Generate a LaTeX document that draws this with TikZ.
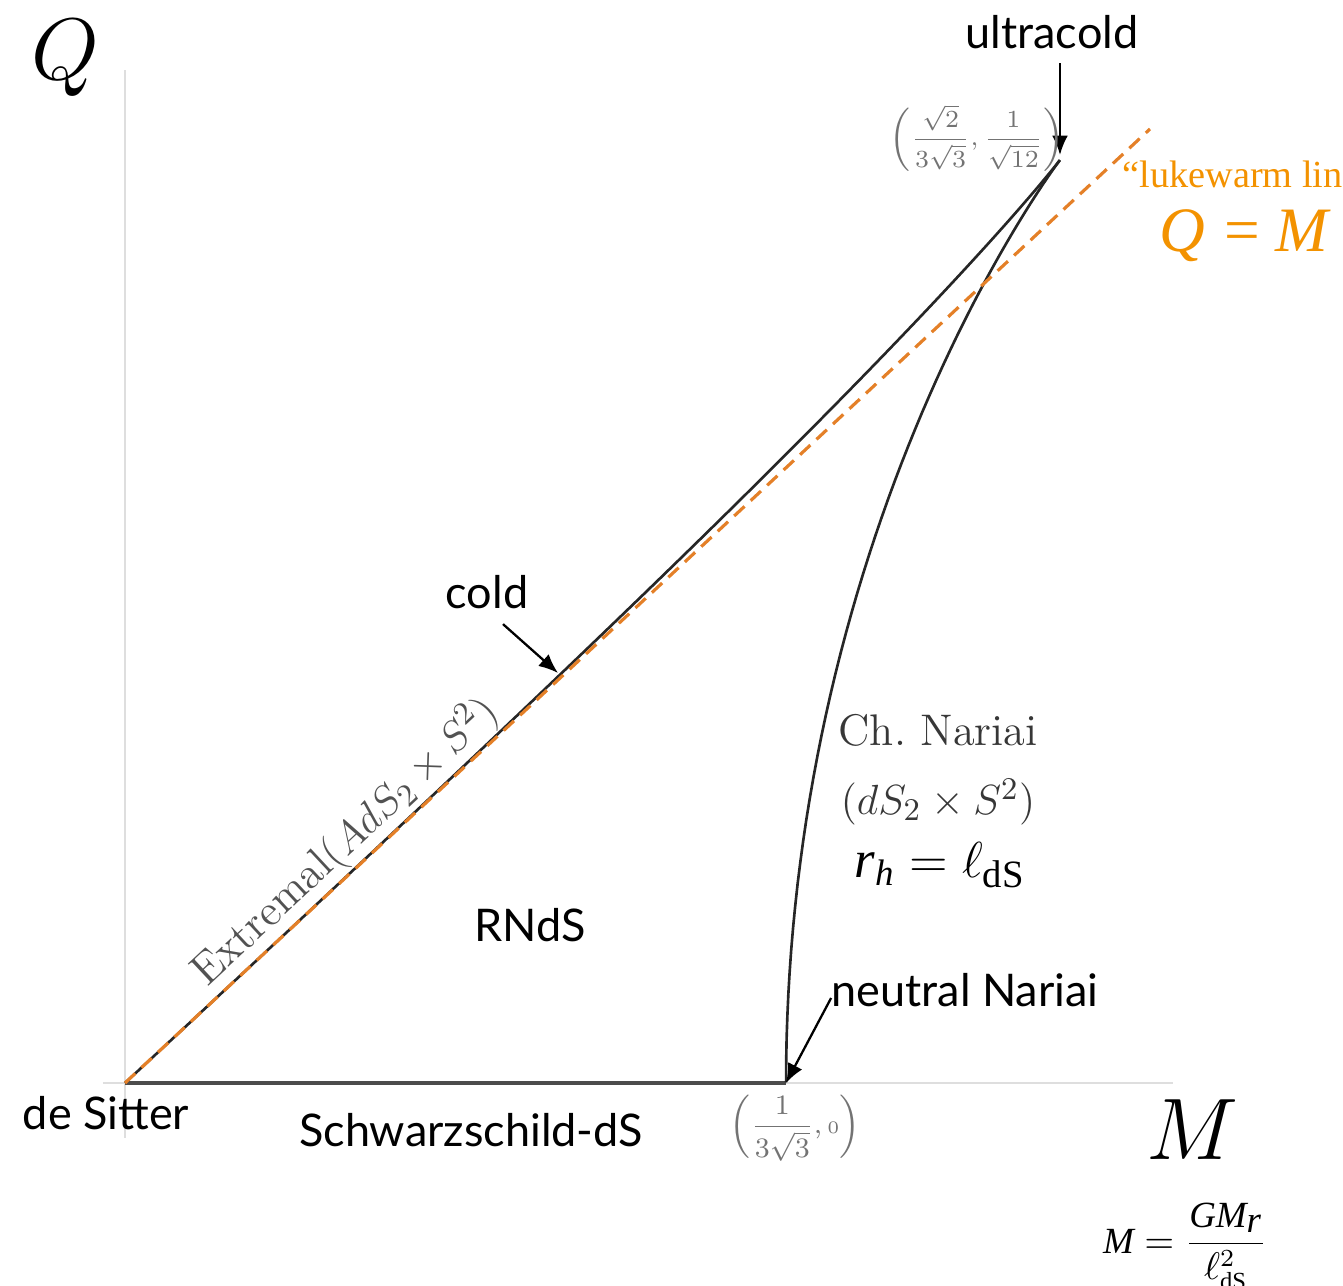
\documentclass[tikz,border=0pt]{standalone}
\usepackage{fontspec}
\usetikzlibrary{arrows.meta}
\newfontfamily\lbl{Lato}
\newfontfamily\tms{Liberation Serif}
\newcommand\ti[1]{\mbox{\tms\itshape #1}}
\newcommand\tisub[1]{\mbox{\tms\itshape\fontsize{10.5}{12}\selectfont #1}}
\definecolor{warm}{RGB}{243,146,0}
\definecolor{warmline}{RGB}{228,128,40}
\definecolor{axisgray}{RGB}{222,222,222}
\definecolor{txtgray}{RGB}{55,55,55}
\begin{document}
\begin{tikzpicture}[x=0.1mm,y=0.1mm,
  curve/.style={line width=0.75pt,black!85},
  sidelbl/.style={font=\lbl\fontsize{12.8}{15}\selectfont},
  cmlbl/.style={text=txtgray,font=\fontsize{12.6}{15}\selectfont},
  ptlbl/.style={text=black!55,font=\fontsize{7.2}{9}\selectfont},
  pointer/.style={-{Latex[length=5.5pt,width=4.5pt]},line width=0.65pt}]
\useasboundingbox (-125,-203) rectangle (1218,1083);
% axes
\draw[axisgray,line width=0.6pt] (0,-55) -- (0,1013);
\draw[axisgray,line width=0.6pt] (-22,0) -- (1048,0);
\node[font=\fontsize{25}{30}\selectfont] (qax) at (-60,1025) {$Q$};
\node[font=\fontsize{23}{28}\selectfont] (max) at (1067,-47) {$M$};
% special points
\coordinate (ds) at (0,0);
\coordinate (nn) at (661,0);
\coordinate (uc) at (935,923);
\coordinate (cp) at (433,410);
\coordinate (lw) at (1025,954);
% Schwarzschild-dS branch
\draw[line width=1pt,black!70] (ds) -- (nn);
% extremal (cold) branch
\draw[curve] plot[domain=0:0.40825,samples=60,variable=\r]
  ({3435*\r*(1-2*\r*\r)},{3197*\r*sqrt(1-3*\r*\r)});
% charged Nariai branch
\draw[curve] plot[domain=0.70711:0,samples=60,variable=\t]
  ({3435*sqrt((1-\t*\t)/3)*(1+2*\t*\t)/3},{3197*sqrt((1-\t*\t)/3)*\t});
% lukewarm line Q=M
\draw[warmline,line width=0.9pt,dash pattern=on 4pt off 2.4pt] (ds) -- (lw);
% labels
\node[sidelbl] (ultra) at (927,1051) {ultracold};
\draw[pointer] (ultra.south -| uc) ++(0,-2) -- ([shift={(0,5)}]uc);
\node[ptlbl] (ucval) at (852,945) {$\displaystyle\left(\frac{\sqrt{2}}{3\sqrt{3}},\frac{1}{\sqrt{12}}\right)$};
\node[anchor=base west,text=warm,font=\tms\fontsize{10.9}{13}\selectfont] (lwtxt) at (985,895) {“lukewarm line”};
\node[anchor=base west,text=warm,font=\fontsize{18}{21}\selectfont] (qm) at (1022,831) {\ti{Q} \tms= \ti{M}};
\node[sidelbl] (cold) at (362,491) {cold};
\draw[pointer] (cold.south) ++(16,-3) -- (cp);
\node[cmlbl,text=black!68,rotate=43] (ext) at (220,241) {Extremal$(AdS_2\times S^2)$};
\node[sidelbl] (rnds) at (405,158) {RNdS};
\node[cmlbl] (chn) at (813,353) {Ch.\ Nariai};
\node[cmlbl] (chg) at (813,281) {$(dS_2\times S^2)$};
\node[font=\fontsize{15}{18}\selectfont] (rh) at (815,218) {$\ti{r}_{\tisub{h}}=\ell_{\mbox{\tms\fontsize{11}{13}\selectfont dS}}$};
\node[sidelbl] (neut) at (840,93) {neutral Nariai};
\draw[pointer] ([shift={(12,-8)}]neut.west) -- (nn);
\node[ptlbl,font=\fontsize{7.6}{9}\selectfont] (nnval) at (670,-45) {$\displaystyle\left(\frac{1}{3\sqrt{3}},{\scriptstyle 0}\right)$};
\node[sidelbl] (desit) at (-19,-30) {de Sitter};
\node[sidelbl] (sch) at (346,-47) {Schwarzschild-dS};
\node[font=\fontsize{10.5}{13}\selectfont] (mdef) at (1060,-163) {$\ti{M}=\displaystyle\frac{\ti{GM}_{\ti{r}}}{\ell^2_{\mbox{\tms\scriptsize dS}}}$};
\end{tikzpicture}
\end{document}
